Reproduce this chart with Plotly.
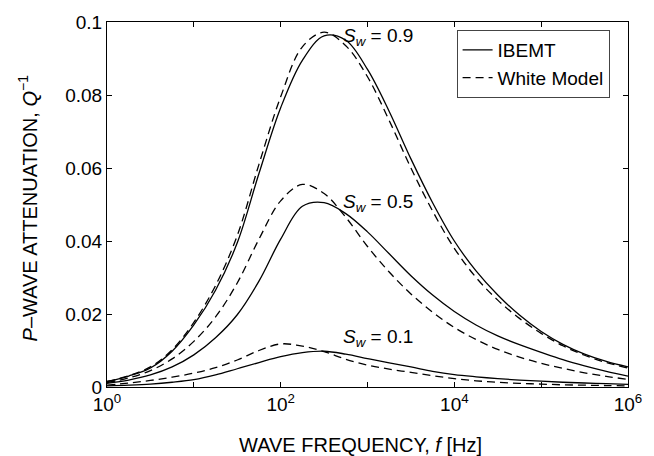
import plotly.graph_objects as go

log_f = [0, 0.25, 0.5, 0.75, 1, 1.25, 1.5, 1.75, 2, 2.25, 2.5, 2.75, 3,
         3.25, 3.5, 3.75, 4, 4.25, 4.5, 4.75, 5, 5.25, 5.5, 5.75, 6]

ibemt_09 = [0.0015, 0.0030, 0.0052, 0.0098, 0.0170, 0.0265, 0.0395, 0.0585, 0.0765, 0.0895, 0.0962, 0.0950, 0.0870,
            0.0755, 0.0625, 0.0505, 0.0400, 0.0318, 0.0252, 0.0197, 0.0152, 0.0117, 0.0090, 0.0070, 0.0055]
white_09 = [0.0015, 0.0031, 0.0055, 0.0102, 0.0177, 0.0278, 0.0415, 0.0610, 0.0795, 0.0932, 0.0972, 0.0935, 0.0850,
            0.0730, 0.0600, 0.0482, 0.0380, 0.0300, 0.0238, 0.0188, 0.0147, 0.0113, 0.0087, 0.0067, 0.0052]
ibemt_05 = [0.0010, 0.0019, 0.0033, 0.0055, 0.0088, 0.0135, 0.0198, 0.0290, 0.0405, 0.0495, 0.0505, 0.0475, 0.0425,
            0.0365, 0.0305, 0.0252, 0.0207, 0.0170, 0.0140, 0.0116, 0.0095, 0.0075, 0.0058, 0.0043, 0.0030]
white_05 = [0.0012, 0.0025, 0.0045, 0.0077, 0.0125, 0.0192, 0.0285, 0.0405, 0.0510, 0.0555, 0.0530, 0.0465, 0.0385,
            0.0315, 0.0255, 0.0205, 0.0163, 0.0130, 0.0103, 0.0082, 0.0065, 0.0051, 0.0039, 0.0029, 0.0021]
ibemt_01 = [0.0003, 0.0005, 0.0008, 0.0013, 0.0020, 0.0033, 0.0050, 0.0067, 0.0083, 0.0094, 0.0098, 0.0090, 0.0078,
            0.0066, 0.0055, 0.0043, 0.0034, 0.0028, 0.0023, 0.0019, 0.0016, 0.0013, 0.0011, 0.0009, 0.0007]
white_01 = [0.0005, 0.0011, 0.0018, 0.0027, 0.0038, 0.0053, 0.0074, 0.0100, 0.0118, 0.0112, 0.0097, 0.0076, 0.0060,
            0.0049, 0.0040, 0.0031, 0.0023, 0.0017, 0.0013, 0.0010, 0.0008, 0.0006, 0.0005, 0.0004, 0.0003]

sw_labels = ["0.9", "0.5", "0.1"]
sw_label_pos = [(2.70, 0.0960), (2.70, 0.0505), (2.70, 0.0133)]

x_tick_exp = [0, 1, 2, 3, 4, 5, 6]
y_ticks = [0, 0.02, 0.04, 0.06, 0.08, 0.1]
y_tick_text = ["0", "0.02", "0.04", "0.06", "0.08", "0.1"]

freq = [10 ** e for e in log_f]
FONT = "Liberation Sans, Arial, sans-serif"

fig = go.Figure()
pairs = [(ibemt_09, white_09), (ibemt_05, white_05), (ibemt_01, white_01)]
for i, (sol, dsh) in enumerate(pairs):
    fig.add_trace(go.Scatter(x=freq, y=sol, mode="lines", line=dict(color="black", width=1.3, shape="spline"),
                             name="IBEMT", showlegend=(i == 0), legendgroup="ibemt"))
for i, (sol, dsh) in enumerate(pairs):
    fig.add_trace(go.Scatter(x=freq, y=dsh, mode="lines",
                             line=dict(color="black", width=1.3, shape="spline", dash="8px,5px"),
                             name="White Model", showlegend=(i == 0), legendgroup="white"))

annotations = []
for lab, (lx, ly) in zip(sw_labels, sw_label_pos):
    annotations.append(dict(x=lx, y=ly, xref="x", yref="y", xanchor="left", yanchor="middle",
                            text="<i>S</i><sub><i>w</i></sub> = " + lab, showarrow=False,
                            font=dict(family=FONT, size=19, color="black")))
annotations.append(dict(x=0.487, y=-0.16, xref="paper", yref="paper", xanchor="center", yanchor="middle",
                        text="WAVE FREQUENCY, <i>f</i> [Hz]", showarrow=False,
                        font=dict(family=FONT, size=20, color="black")))
annotations.append(dict(x=-0.153, y=0.49, xref="paper", yref="paper", xanchor="center", yanchor="middle",
                        text="<i>P</i>–WAVE ATTENUATION, <i>Q</i><sup>−1</sup>", showarrow=False, textangle=-90,
                        font=dict(family=FONT, size=20, color="black")))

fig.update_layout(
    width=654, height=456,
    margin=dict(l=107, r=23, t=20, b=69),
    plot_bgcolor="white", paper_bgcolor="white",
    font=dict(family=FONT, size=19, color="black"),
    annotations=annotations,
    legend=dict(x=0.671, y=0.978, xanchor="left", yanchor="top", bgcolor="white",
                bordercolor="#444", borderwidth=1, font=dict(family=FONT, size=19, color="black"),
                tracegroupgap=0),
    xaxis=dict(type="log", range=[0, 6], showline=True, linecolor="black", linewidth=1, mirror="ticks",
               ticks="inside", ticklen=5, tickcolor="black", showgrid=False, zeroline=False,
               tickvals=[10 ** e for e in x_tick_exp],
               ticktext=["10<sup>%d</sup>" % e if e % 2 == 0 else "" for e in x_tick_exp],
               tickfont=dict(family=FONT, size=19, color="black")),
    yaxis=dict(range=[0, 0.1], showline=True, linecolor="black", linewidth=1, mirror="ticks",
               ticks="inside", ticklen=5, tickcolor="black", showgrid=False, zeroline=False,
               tickvals=y_ticks, ticktext=y_tick_text,
               tickfont=dict(family=FONT, size=19, color="black")),
)

fig.write_html("out.html", config={"displayModeBar": False},
               post_script="document.body.style.margin='0px';")
